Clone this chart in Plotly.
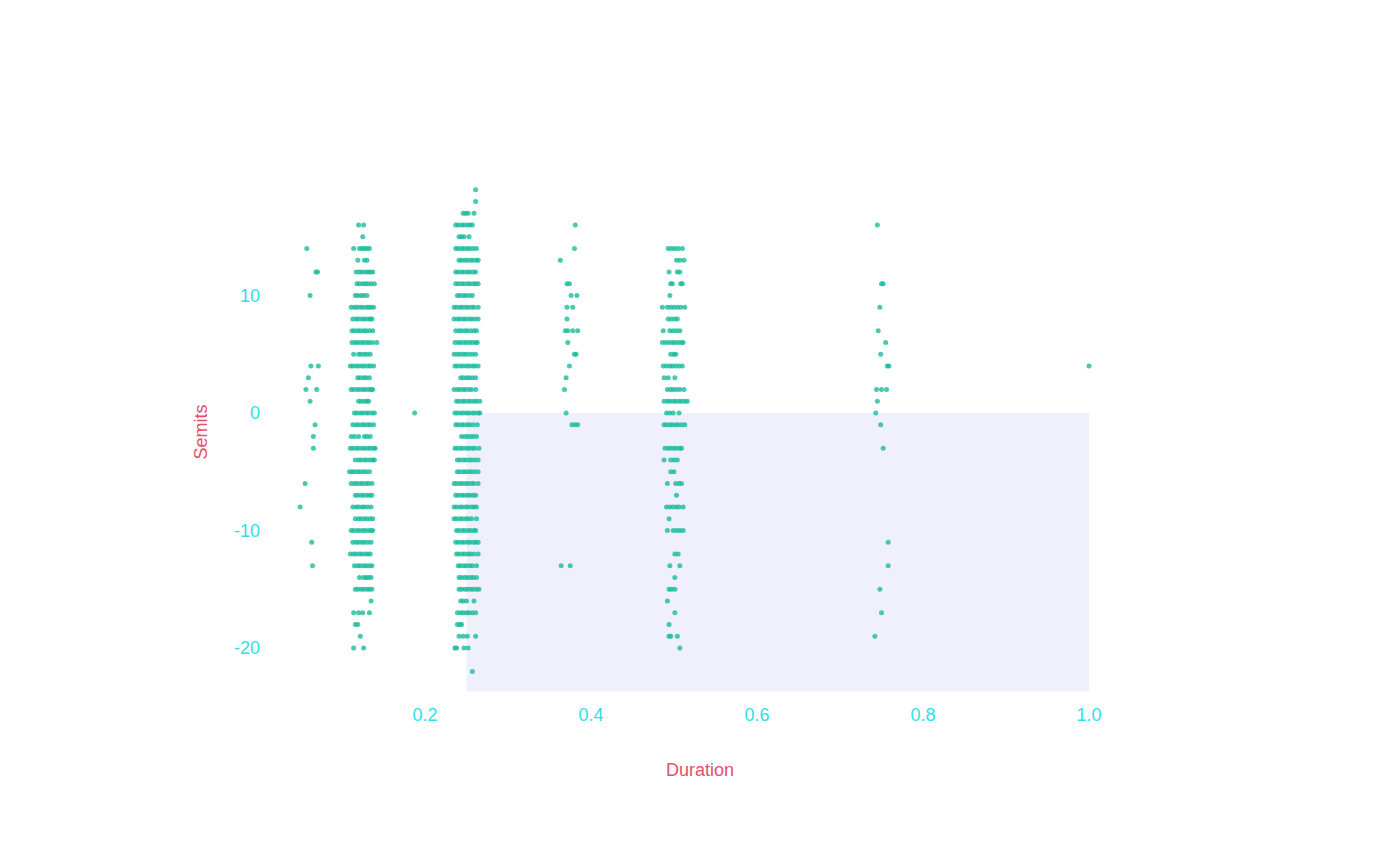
import plotly.graph_objects as go

# jitter offsets are in thousandths of a beat, keyed by semits
dur_0625 = {14: [-5], 12: [6, 8], 10: [-1], 4: [0, 9], 3: [-3], 2: [-6, 7], 1: [-1],
            -1: [5], -2: [3], -3: [3], -6: [-7], -8: [-13], -11: [1], -13: [2]}

dur_125 = {
    16: [-5, 1], 15: [0], 14: [-11, -4, -1, 2, 5, 8], 13: [-6, 2, 5],
    12: [-8, -4, -1, 3, 6, 9, 12], 11: [-7, -4, 0, 3, 6, 10, 14], 10: [-9, -6, -2, 1, 5],
    9: [-14, -10, -7, -3, 0, 4, 7, 10, 13], 8: [-12, -8, -5, -1, 2, 6, 9, 11],
    7: [-13, -10, -6, -3, 1, 4, 8, 12], 6: [-13, -9, -6, -2, 1, 5, 8, 12, 17],
    5: [-11, -5, -2, 2, 5, 9], 4: [-15, -12, -8, -5, -1, 2, 6, 9, 13], 3: [-6, -3, 1, 4, 8],
    2: [-14, -11, -7, -4, 0, 3, 7, 10, 12], 1: [-5, -2, 2, 5, 7],
    0: [-10, -7, -3, 0, 4, 7, 11, 14], -1: [-12, -8, -5, -1, 2, 6, 9, 13],
    -2: [-14, -10, -5, 2, 5, 9], -3: [-15, -12, -8, -5, -1, 2, 6, 9, 13, 15],
    -4: [-9, -5, -2, 2, 5, 9, 12, 14], -5: [-16, -13, -10, -6, -3, 1, 4, 8],
    -6: [-14, -10, -7, -3, 0, 4, 7, 11], -7: [-9, -6, -2, 1, 5, 8, 11],
    -8: [-12, -8, -5, -1, 2, 6, 10], -9: [-9, -5, -2, 2, 5, 9, 12],
    -10: [-14, -11, -7, -4, 0, 3, 7, 10, 12], -11: [-12, -8, -5, -1, 2, 6, 10],
    -12: [-15, -11, -8, -4, -1, 3, 6, 9], -13: [-10, -6, -3, 1, 4, 8, 11],
    -14: [-4, 1, 4, 7, 10], -15: [-9, -6, -2, 1, 5, 8, 11], -16: [10],
    -17: [-11, -5, 0, 8], -18: [-9, -6], -19: [-3], -20: [-11, 1],
}

dur_1875 = {0: [0]}

dur_25 = {
    19: [11], 18: [11], 17: [-4, -1, 2, 9], 16: [-13, -10, -6, -3, 1, 4, 7],
    15: [-9, -6, -3, 3], 14: [-13, -10, -6, -3, 1, 4, 8, 12],
    13: [-9, -6, -2, 1, 5, 8, 12, 14], 12: [-13, -10, -6, -3, 1, 4, 8, 11],
    11: [-13, -10, -6, -3, 1, 4, 8, 11, 14], 10: [-11, -8, -4, -1, 3, 7],
    9: [-15, -12, -8, -5, -1, 2, 6, 9, 14], 8: [-15, -11, -8, -4, -1, 3, 6, 10, 14],
    7: [-13, -9, -6, -2, 1, 5, 9, 12], 6: [-14, -10, -7, -3, 0, 4, 7, 11, 13],
    5: [-15, -11, -8, -4, -1, 3, 7, 11], 4: [-14, -11, -7, -4, 0, 3, 7, 10, 14],
    3: [-7, -4, 0, 3, 7, 11], 2: [-15, -11, -8, -4, -1, 3, 6, 11],
    1: [-12, -9, -5, -2, 2, 5, 9, 12, 16], 0: [-14, -11, -7, -4, 0, 3, 7, 10, 14, 16],
    -1: [-13, -10, -6, -3, 1, 4, 8, 13], -2: [-6, -2, 1, 5, 8, 12],
    -3: [-14, -11, -7, -4, 0, 3, 7, 10, 15], -4: [-11, -8, -4, -1, 3, 6, 10, 14],
    -5: [-11, -8, -4, -1, 3, 6, 10, 14], -6: [-15, -12, -8, -5, -1, 2, 6, 9, 14],
    -7: [-13, -10, -6, -3, 1, 4, 8, 11], -8: [-15, -12, -8, -5, -1, 2, 6, 9, 12],
    -9: [-15, -12, -8, -5, -1, 2, 6, 12], -10: [-12, -9, -5, -2, 2, 5, 9, 11],
    -11: [-13, -10, -6, -3, 1, 4, 8, 11, 14], -12: [-12, -9, -5, -2, 2, 5, 9, 14],
    -13: [-10, -7, -3, 0, 4, 7, 12], -14: [-9, -6, -2, 1, 5, 8, 12],
    -15: [-9, -6, -2, 1, 5, 8, 12, 15], -16: [-7, -4, 0, 9],
    -17: [-11, -7, -4, 0, 3, 7, 11], -18: [-11, -8, -6], -19: [-9, -4, 1, 11],
    -20: [-14, -12, -3, 2], -22: [7],
}

dur_375 = {16: [6], 14: [5], 13: [-12], 11: [-4, -1], 10: [1, 8], 9: [-4, 3], 8: [-4],
           7: [-6, -3, 3, 9], 6: [-3], 5: [5, 7], 4: [-1], 3: [-5], 2: [-7], 0: [-5],
           -1: [2, 6, 9], -13: [-11, 0]}

dur_5 = {
    14: [-7, -3, 1, 5, 10], 13: [3, 7, 12], 12: [-6, 4, 7], 11: [-4, -2, 8, 10], 10: [-5],
    9: [-14, -8, -4, 0, 4, 8, 13], 8: [-7, -3, 1, 4], 7: [-13, -5, -1, 3, 7],
    6: [-14, -10, -6, -2, 1, 5, 9, 11], 5: [-4, 0, 2], 4: [-13, -9, -5, -2, 2, 6, 10],
    3: [-12, -7, 1], 2: [-8, -4, -1, 3, 7, 12], 1: [-12, -8, -5, -1, 2, 6, 9, 13, 16],
    0: [-9, -5, -1, 6], -1: [-12, -9, -5, -2, 2, 5, 9, 13], -3: [-11, -7, -4, 0, 3, 7, 9],
    -4: [-12, -4, 0, 4], -5: [-4, 0], -6: [-8, 2, 6, 9], -7: [3], -8: [-9, -5, -1, 3, 6, 11],
    -9: [-6], -10: [-8, -1, 3, 7, 11], -12: [1, 5], -13: [-5, 7], -14: [1], -15: [-6, -3, 1],
    -16: [-8], -17: [1], -18: [-6], -19: [-6, -4, 4], -20: [7],
}

dur_75 = {16: [-5], 11: [0, 2], 9: [-2], 7: [-4], 6: [5], 5: [-1], 4: [7, 9], 2: [-6, 0, 6],
          1: [-5], 0: [-7], -1: [-1], -3: [2], -11: [8], -13: [8], -15: [-2], -17: [0], -19: [-8]}

dur_1 = {4: [0]}

columns = [(0.0625, dur_0625), (0.125, dur_125), (0.1875, dur_1875), (0.25, dur_25),
           (0.375, dur_375), (0.5, dur_5), (0.75, dur_75), (1.0, dur_1)]

x_ticks = [0.2, 0.4, 0.6, 0.8, 1.0]
y_ticks = [-20, -10, 0, 10]

xs = []
ys = []
for dur, rows in columns:
    for semit, offs in rows.items():
        for o in offs:
            xs.append(dur + o / 1000)
            ys.append(semit)

fig = go.Figure()
fig.add_trace(go.Scatter(x=xs, y=ys, mode='markers',
                         marker=dict(size=5, color='#1abc9c', opacity=0.8),
                         showlegend=False))

# shaded region: long notes going down
fig.add_shape(type='rect', x0=0.25, x1=1.0, y0=0, y1=-23.7,
              fillcolor='lavender', opacity=0.6, line_width=0, layer='below')

tick_font = dict(family='Arial', size=18, color='#2ee0ea')
title_font = dict(family='Arial', size=18, color='#e2506c')

fig.update_layout(
    width=1400, height=865,
    plot_bgcolor='white', paper_bgcolor='white',
    margin=dict(l=258, r=274, t=157, b=174),
    xaxis=dict(title=dict(text='Duration', font=title_font, standoff=39),
               tickfont=tick_font, ticklabelstandoff=3,
               range=[0.0084, 1.0542], showgrid=False, zeroline=False,
               tickvals=x_ticks, ticktext=['%.1f' % v for v in x_ticks]),
    yaxis=dict(title=dict(text='Semits', font=title_font, standoff=21),
               tickfont=tick_font, ticklabelstandoff=5,
               range=[-24.34, 21.1], showgrid=False, zeroline=False,
               tickvals=y_ticks, ticktext=[str(v) for v in y_ticks]),
)

fig.write_html("out.html")
